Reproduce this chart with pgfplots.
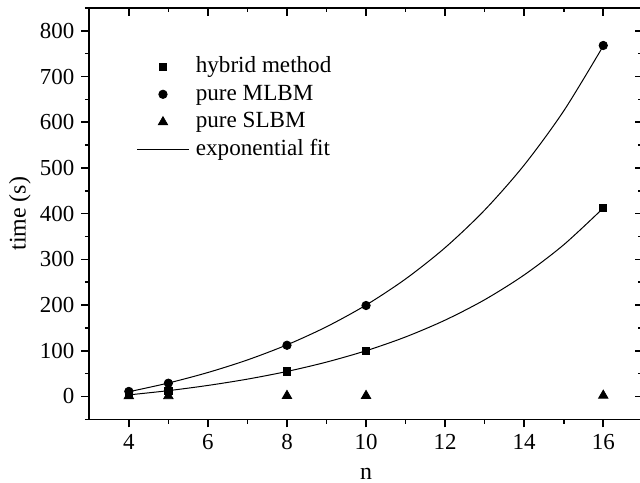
\documentclass[border=0pt]{standalone}
\usepackage{fontspec}
\setmainfont{Liberation Serif}
\usepackage{pgfplots}
\pgfplotsset{compat=1.18}
\begin{document}
\begin{tikzpicture}
\pgfplotsset{
  base/.style={
    width=276.75bp, height=205.65bp, scale only axis,
    xmin=3, xmax=17, ymin=-50, ymax=850,
    xtick={4,6,...,16}, minor xtick={5,7,...,15},
    ytick={0,100,...,800}, minor ytick={-50,50,...,850},
    major tick length=4bp, minor tick length=2.2bp,
    axis line style={line width=0.8bp},
    every tick/.style={line width=0.8bp, black},
    /pgf/number format/assume math mode=true,
    ticklabel style={font=\fontsize{11.5}{13}\selectfont},
  }
}
\begin{axis}[base, tick align=outside, xtick pos=bottom, ytick pos=left,
  xlabel={n}, ylabel={time (s)},
  label style={font=\fontsize{12}{14}\selectfont},
  xlabel style={at={(axis description cs:0.5,-0.1335)}, anchor=center},
  ylabel style={at={(axis description cs:-0.1252,0.5)}, anchor=center},
  legend style={draw=none, fill=none, at={(axis description cs:0.0856,0.884)}, anchor=north west,
    inner sep=0pt, outer sep=0pt, row sep=3.1bp, column sep=3.3bp,
    nodes={inner sep=0pt, text height=8.3bp, text depth=2.5bp, font=\fontsize{11.6}{13}\selectfont}},
  legend cell align=left,
  legend image code/.code={\draw[mark repeat=2,mark phase=2,#1] plot coordinates {(0bp,0bp) (12.9bp,0bp) (25.8bp,0bp)};},
]
\addplot[only marks, mark=square*, mark size=1.8bp, black] coordinates {(4,4)(5,12)(8,55)(10,100)(16,412)};
\addlegendentry{hybrid method}
\addplot[only marks, mark=*, mark size=2.1bp, black] coordinates {(4,11)(5,29)(8,112)(10,199)(16,768)};
\addlegendentry{pure MLBM}
\addplot[only marks, mark=triangle*, mark size=2.7bp, black] coordinates {(4,1)(5,1)(8,1.5)(10,1.5)(16,2)};
\addlegendentry{pure SLBM}
\addplot[smooth, line width=0.5bp, black, mark=none] coordinates {
(4,3.4)(5,12.7)(6,24.1)(7,37.9)(8,54.7)(9,75.2)(10,100.0)(11,130.2)(12,167.0)(13,211.6)(14,265.9)(15,331.9)(16,412.2)};
\addlegendentry{exponential fit}
\addplot[smooth, line width=0.5bp, black, mark=none, forget plot] coordinates {
(4,10.3)(5,29.4)(6,52.4)(7,79.9)(8,112.9)(9,152.5)(10,200.0)(11,257.1)(12,325.6)(13,407.8)(14,506.4)(15,624.8)(16,767.0)};
\end{axis}
\begin{axis}[base, tick align=inside, xtick pos=top, ytick pos=right,
  xticklabels={}, yticklabels={}]
\end{axis}
\pgfresetboundingbox
\path[use as bounding box] (-44.65bp,-31.85bp) rectangle (275.35bp,209.65bp);
\end{tikzpicture}
\end{document}
